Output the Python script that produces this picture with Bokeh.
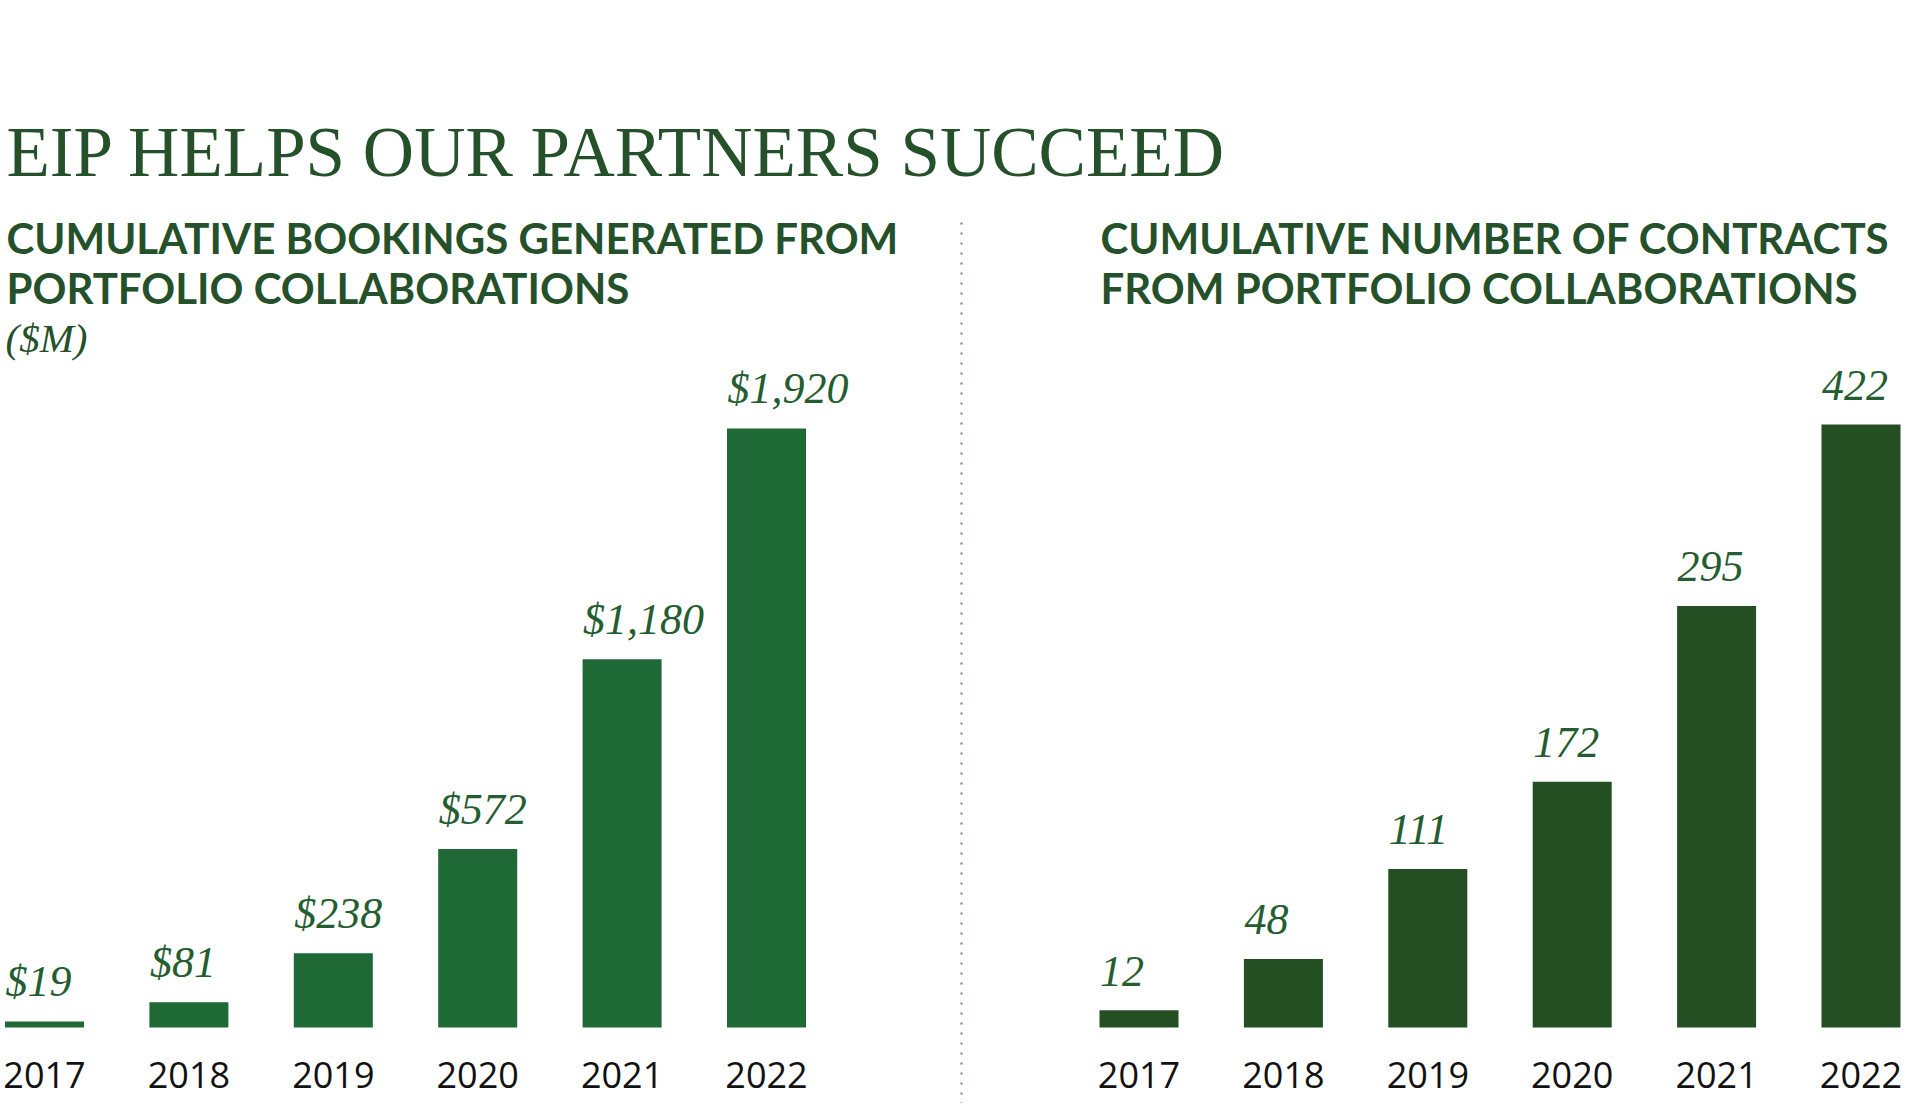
from bokeh.plotting import figure
from bokeh.models import Range1d, Label, ColumnDataSource
from bokeh.core.properties import value
from bokeh.embed import file_html
from bokeh.resources import INLINE

# ---- data ----
years = [2017, 2018, 2019, 2020, 2021, 2022]
bookings = [19, 81, 238, 572, 1180, 1920]
booking_labels = ["$19", "$81", "$238", "$572", "$1,180", "$1,920"]
contracts = [12, 48, 111, 172, 295, 422]
contract_labels = ["12", "48", "111", "172", "295", "422"]
year_labels = [str(y) for y in years]

title_text = "EIP HELPS OUR PARTNERS SUCCEED"
left_title = ["CUMULATIVE BOOKINGS GENERATED FROM", "PORTFOLIO COLLABORATIONS"]
left_unit = "($M)"
right_title = ["CUMULATIVE NUMBER OF CONTRACTS", "FROM PORTFOLIO COLLABORATIONS"]

# ---- styling ----
W, H = 1904, 1103
TITLE_COLOR = "#24502a"
LABEL_COLOR = "#235d30"
LEFT_BAR = "#1e6936"
RIGHT_BAR = "#244f23"
PX_PER_YEAR = 144.4
BASE_Y = 1027  # bar baseline position (px from top)
BOTTOM_PAD = H - BASE_Y

left_scale = 599 / 1920.0
right_scale = 603 / 422.0

lx0 = 2017 - 44 / PX_PER_YEAR
rx0 = 2017 - 1138.5 / PX_PER_YEAR
span = W / PX_PER_YEAR

p = figure(width=W, height=H, output_backend="svg", toolbar_location=None,
           x_range=Range1d(lx0, lx0 + span),
           y_range=Range1d(-BOTTOM_PAD / left_scale, BASE_Y / left_scale),
           x_axis_location=None, y_axis_location=None,
           min_border=0, min_border_left=0, min_border_right=0,
           min_border_top=0, min_border_bottom=0)
p.outline_line_color = None
p.grid.visible = False
p.background_fill_color = "white"
p.border_fill_color = "white"

p.extra_x_ranges = {"right": Range1d(rx0, rx0 + span), "px": Range1d(0, W)}
p.extra_y_ranges = {"right": Range1d(-BOTTOM_PAD / right_scale, BASE_Y / right_scale),
                    "px": Range1d(H, 0)}

bw = 79 / PX_PER_YEAR
left_src = ColumnDataSource(dict(x=years, top=bookings, lab=booking_labels,
                                 yl=year_labels, zero=[0] * len(years)))
right_src = ColumnDataSource(dict(x=years, top=contracts, lab=contract_labels,
                                  yl=year_labels, zero=[0] * len(years)))

VAL_FONT = "44px"
YEAR_FONT = "36px"

# left chart
p.vbar(x="x", top="top", bottom=0, width=bw, source=left_src,
       fill_color=LEFT_BAR, line_color=None)
p.text(x="x", y="top", text="lab", source=left_src, x_offset=-39, y_offset=-40,
       text_align="left", text_baseline="alphabetic",
       text_font=value("Liberation Serif"), text_font_style="italic",
       text_font_size=VAL_FONT, text_color=LABEL_COLOR)
p.text(x="x", y="zero", text="yl", source=left_src, y_offset=47,
       text_align="center", text_baseline="alphabetic",
       text_font=value("Open Sans"), text_font_size=YEAR_FONT, text_color="#111111")

# right chart
p.vbar(x="x", top="top", bottom=0, width=bw, source=right_src,
       fill_color=RIGHT_BAR, line_color=None,
       x_range_name="right", y_range_name="right")
p.text(x="x", y="top", text="lab", source=right_src, x_offset=-39, y_offset=-39,
       text_align="left", text_baseline="alphabetic",
       text_font=value("Liberation Serif"), text_font_style="italic",
       text_font_size=VAL_FONT, text_color=LABEL_COLOR,
       x_range_name="right", y_range_name="right")
p.text(x="x", y="zero", text="yl", source=right_src, y_offset=47,
       text_align="center", text_baseline="alphabetic",
       text_font=value("Open Sans"), text_font_size=YEAR_FONT, text_color="#111111",
       x_range_name="right", y_range_name="right")

# divider
p.segment(x0=[961], y0=[222], x1=[961], y1=[H], line_color="#6b8a6b",
          line_width=2, line_dash="2 8", x_range_name="px", y_range_name="px")

# titles
def lab(text, x, y, font, size, style="normal", color=TITLE_COLOR):
    p.add_layout(Label(x=x, y=y, text=text, x_range_name="px", y_range_name="px",
                       text_font=font, text_font_size=size, text_font_style=style,
                       text_color=color, text_baseline="alphabetic",
                       text_align="left"))

lab(title_text, 6, 151, "Liberation Serif", "71px")
lab(left_title[0], 6, 237.5, "Lato", "42px", "bold")
lab(left_title[1], 6, 287.5, "Lato", "42px", "bold")
lab(left_unit, 5, 337, "Liberation Serif", "41px", "italic")
lab(right_title[0], 1100, 237.5, "Lato", "42px", "bold")
lab(right_title[1], 1100, 287.5, "Lato", "42px", "bold")

open("out.html", "w").write(file_html(p, INLINE))
